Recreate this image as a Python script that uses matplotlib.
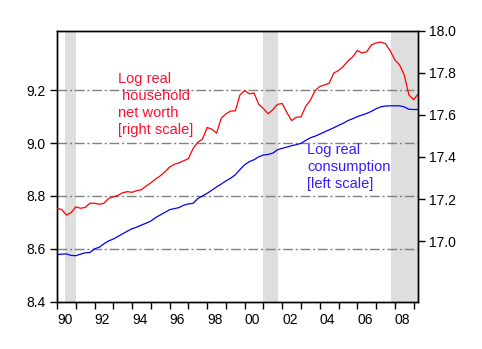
import numpy as np
import matplotlib
matplotlib.use("Agg")
import matplotlib.pyplot as plt

plt.rcParams['font.family'] = ['Liberation Sans', 'DejaVu Sans']

# quarterly data, 1990Q1 .. 2009Q2
start_year = 1990
consumption = [
    8.578, 8.580, 8.581, 8.575, 8.574, 8.580, 8.585, 8.586, 8.600, 8.606,
    8.619, 8.630, 8.637, 8.647, 8.657, 8.667, 8.676, 8.682, 8.690, 8.697,
    8.705, 8.718, 8.728, 8.738, 8.748, 8.752, 8.756, 8.765, 8.770, 8.772,
    8.790, 8.800, 8.810, 8.822, 8.834, 8.845, 8.857, 8.867, 8.880, 8.900,
    8.918, 8.930, 8.937, 8.948, 8.955, 8.957, 8.962, 8.975, 8.980, 8.985,
    8.990, 8.994, 8.999, 9.010, 9.020, 9.026, 9.034, 9.042, 9.050, 9.058,
    9.067, 9.075, 9.085, 9.092, 9.100, 9.106, 9.112, 9.120, 9.130, 9.137,
    9.140, 9.141, 9.141, 9.141, 9.137, 9.128, 9.127, 9.127,
]
net_worth = [
    17.156, 17.150, 17.124, 17.135, 17.163, 17.156, 17.160, 17.180, 17.180, 17.175,
    17.180, 17.203, 17.210, 17.218, 17.230, 17.235, 17.232, 17.240, 17.244, 17.262,
    17.277, 17.295, 17.310, 17.330, 17.352, 17.365, 17.372, 17.382, 17.392, 17.440,
    17.470, 17.485, 17.540, 17.532, 17.513, 17.584, 17.605, 17.618, 17.619, 17.695,
    17.716, 17.700, 17.704, 17.650, 17.630, 17.605, 17.625, 17.650, 17.654, 17.611,
    17.573, 17.589, 17.590, 17.640, 17.670, 17.715, 17.735, 17.742, 17.750, 17.799,
    17.811, 17.830, 17.856, 17.875, 17.906, 17.894, 17.900, 17.932, 17.942, 17.946,
    17.938, 17.905, 17.862, 17.838, 17.790, 17.695, 17.672, 17.700,
]
# NBER recessions (start, end) in fractional years
recessions = [(1990.45, 1991.0), (2001.0, 2001.78), (2007.77, 2009.25)]
left_ticks = [8.4, 8.6, 8.8, 9.0, 9.2]
right_ticks = [17.0, 17.2, 17.4, 17.6, 17.8, 18.0]

t = start_year + np.arange(len(consumption)) / 4.0

fig = plt.figure(figsize=(4.82, 3.49), dpi=100)
ax = fig.add_axes([0.1183, 0.1355, 0.7495, 0.7765])
ax2 = ax.twinx()

for a, b in recessions:
    ax.axvspan(a, b, color='#DEDEDE', lw=0, zorder=0)

for y in left_ticks[1:]:
    ax.axhline(y, color='#808080', lw=1, dashes=(7, 2, 1.5, 2), zorder=1)

ax.plot(t, consumption, color='#0000FF', lw=0.9, zorder=3)
ax2.plot(t, net_worth, color='#FF0000', lw=0.9, zorder=3)

ax.set_xlim(1990, 2009.25)
ax.set_ylim(8.4, 9.425)
ax2.set_ylim(16.712, 18.0)

years = list(range(1990, 2010))
ax.set_xticks(years)
ax.set_xticklabels([f"{y % 100:02d}" if y % 2 == 0 else "" for y in years],
                   ha='left', fontsize=10)
ax.set_yticks(left_ticks)
ax.set_yticklabels([f"{v:.1f}" for v in left_ticks], fontsize=10)
ax2.set_yticks(right_ticks)
ax2.set_yticklabels([f"{v:.1f}" for v in right_ticks], fontsize=10)

ax.tick_params(axis='x', direction='out', length=5, width=1, pad=3)
ax.tick_params(axis='y', direction='out', length=5, width=1, pad=3)
ax2.tick_params(axis='y', direction='out', length=5, width=1, pad=3)

for a in (ax, ax2):
    for s in a.spines.values():
        s.set_linewidth(1)
        s.set_color('black')

ax2.text(1993.27, 17.806, "Log real\n household\nnet worth\n[right scale]",
         color='#FF1030', fontsize=10.5, va='top', ha='left', linespacing=1.3)
ax2.text(2003.33, 17.467, "Log real\nconsumption\n[left scale]",
         color='#3A1AFF', fontsize=10.5, va='top', ha='left', linespacing=1.3)

fig.savefig("out.png", dpi=100)
